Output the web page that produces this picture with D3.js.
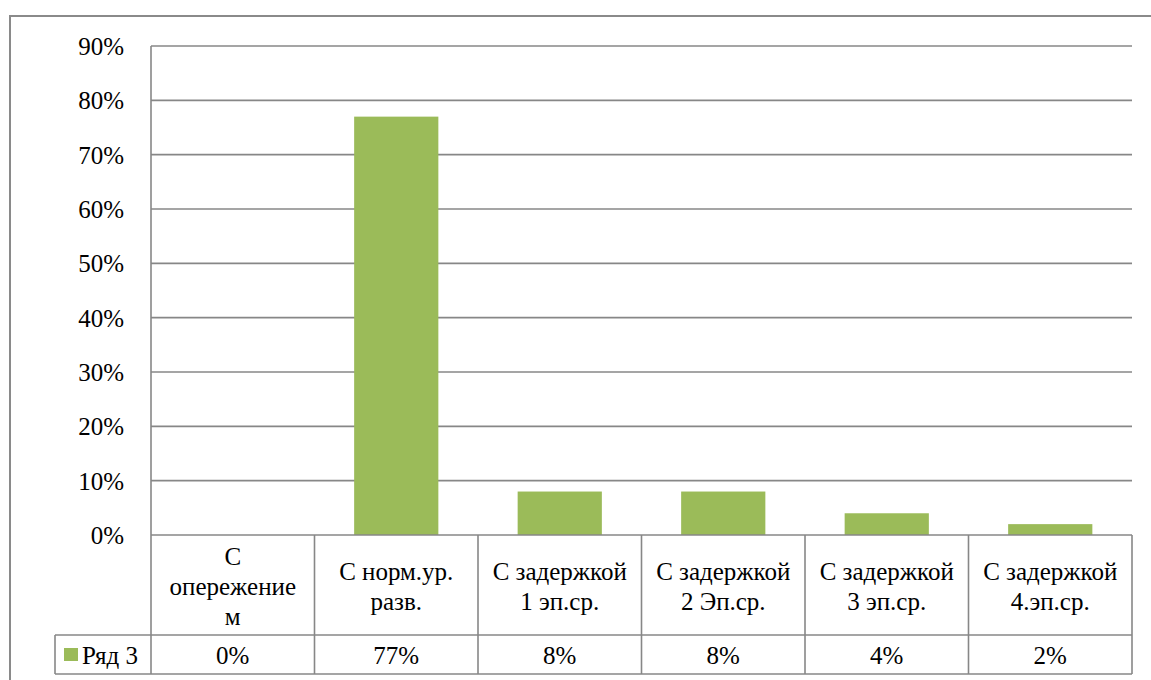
<!DOCTYPE html>
<html><head><meta charset="utf-8">
<script src="https://cdn.jsdelivr.net/npm/d3@7/dist/d3.min.js"></script>
</head>
<body style="margin:0;background:#fff">
<svg id="chart" width="1151" height="680" style="display:block"></svg>
<script>
const categories = ["С\nопережение\nм", "С норм.ур.\nразв.", "С задержкой\n1 эп.ср.", "С задержкой\n2 Эп.ср.", "С задержкой\n3 эп.ср.", "С задержкой\n4.эп.ср."];
const seriesName = "Ряд 3";
const values = [0, 77, 8, 8, 4, 2];
const yTicks = [0, 10, 20, 30, 40, 50, 60, 70, 80, 90];

const svg = d3.select("#chart");
const fontFamilies = ["Liberation Serif"];
const plotLeft = 151, plotRight = 1132, plotTop = 46, plotBottom = 535;
const headerBottom = 635, tableBottom = 674, legendLeft = 55;
const gridColor = "#878787";
const barColor = "#9BBB59";
const fontSize = 25;

function styleText(sel) {
  sel.attr("font-family", () => fontFamilies[0])
    .attr("font-size", fontSize)
    .attr("fill", "#000");
}

svg.append("rect").attr("x", 10).attr("y", 16).attr("width", 1160).attr("height", 700)
  .attr("fill", "none").attr("stroke", "#8a8a8a").attr("stroke-width", 2);

const y = d3.scaleLinear().domain([0, 90]).range([plotBottom, plotTop]);
const xCol = d3.scaleBand().domain(categories).range([plotLeft, plotRight]).padding(0);
const gap = 0.485;
const xBar = d3.scaleBand().domain(categories).range([plotLeft, plotRight]).paddingInner(gap).paddingOuter(gap / 2);

svg.append("g").selectAll("line").data(yTicks.filter(d => d > 0)).join("line")
  .attr("x1", plotLeft).attr("x2", plotRight)
  .attr("y1", d => y(d)).attr("y2", d => y(d))
  .attr("stroke", gridColor).attr("stroke-width", 1.6);

svg.selectAll("text.ytick").data(yTicks).join("text").attr("class", "ytick")
  .attr("x", 124).attr("y", d => y(d) + 9)
  .attr("text-anchor", "end")
  .call(styleText)
  .text(d => d + "%");

svg.append("g").selectAll("rect").data(values).join("rect")
  .attr("x", (d, i) => xBar(categories[i]))
  .attr("width", xBar.bandwidth())
  .attr("y", d => y(d))
  .attr("height", d => y(0) - y(d))
  .attr("fill", barColor);

svg.append("line").attr("x1", plotLeft).attr("x2", plotLeft).attr("y1", plotTop).attr("y2", tableBottom)
  .attr("stroke", gridColor).attr("stroke-width", 1.6);

const tg = svg.append("g").attr("stroke", gridColor).attr("stroke-width", 1.6);
tg.append("line").attr("x1", plotLeft).attr("x2", plotRight).attr("y1", plotBottom).attr("y2", plotBottom);
tg.append("line").attr("x1", legendLeft).attr("x2", plotRight).attr("y1", headerBottom).attr("y2", headerBottom);
tg.append("line").attr("x1", legendLeft).attr("x2", plotRight).attr("y1", tableBottom).attr("y2", tableBottom);
tg.append("line").attr("x1", legendLeft).attr("x2", legendLeft).attr("y1", headerBottom).attr("y2", tableBottom);
tg.selectAll("line.v").data(categories).join("line").attr("class", "v")
  .attr("x1", d => xCol(d) + xCol.bandwidth()).attr("x2", d => xCol(d) + xCol.bandwidth())
  .attr("y1", plotBottom).attr("y2", tableBottom);

const lineH = 30;
const headCenter = 587;
const headerLines = [];
categories.forEach(c => {
  const lines = c.split("\n");
  lines.forEach((l, i) => headerLines.push({ cat: c, text: l, off: i - (lines.length - 1) / 2 }));
});
svg.selectAll("text.head").data(headerLines).join("text").attr("class", "head")
  .attr("x", d => xCol(d.cat) + xCol.bandwidth() / 2)
  .attr("y", d => headCenter + d.off * lineH + 8)
  .attr("text-anchor", "middle")
  .call(styleText)
  .text(d => d.text);

const rowCenter = 656;
svg.selectAll("text.val").data(values).join("text").attr("class", "val")
  .attr("x", (d, i) => xCol(categories[i]) + xCol.bandwidth() / 2)
  .attr("y", rowCenter + 8)
  .attr("text-anchor", "middle")
  .call(styleText)
  .text(d => d + "%");

svg.append("rect").attr("x", 64).attr("y", 648).attr("width", 14).attr("height", 13).attr("fill", barColor);
svg.append("text").attr("x", 82).attr("y", rowCenter + 8)
  .call(styleText)
  .text(seriesName);
</script>
</body></html>
